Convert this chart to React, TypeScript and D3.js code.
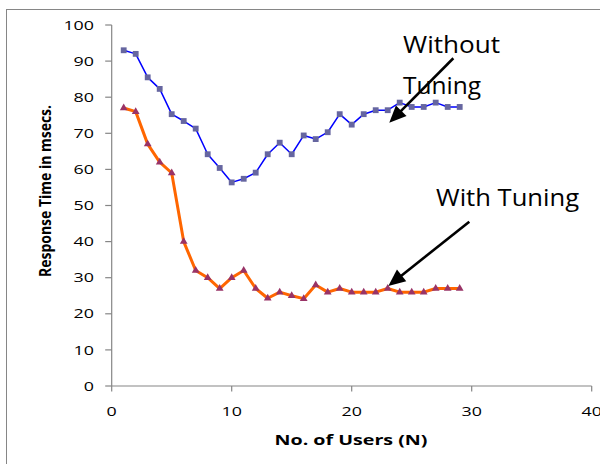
import React from "react";
import * as d3 from "d3";

const users = [1, 2, 3, 4, 5, 6, 7, 8, 9, 10, 11, 12, 13, 14, 15, 16, 17, 18, 19, 20, 21, 22, 23, 24, 25, 26, 27, 28, 29];
const withoutTuning = [93, 92, 85.5, 82.3, 75.3, 73.4, 71.3, 64.2, 60.4, 56.4, 57.4, 59.1, 64.2, 67.4, 64.2, 69.4, 68.4, 70.3, 75.3, 72.4, 75.3, 76.4, 76.4, 78.5, 77.3, 77.3, 78.5, 77.3, 77.3];
const withTuning = [77, 76, 67, 62, 59, 40, 32, 30, 27, 30, 32, 27, 24.3, 26, 25, 24.2, 28, 26, 27, 26, 26, 26, 27, 26, 26, 26, 27, 27, 27];
const xTicks = [0, 10, 20, 30, 40];
const yTicks = [0, 10, 20, 30, 40, 50, 60, 70, 80, 90, 100];

const W = 600;
const H = 464;
const FONT = "'Open Sans', 'Liberation Sans', sans-serif";

export default function App() {
  const x = d3.scaleLinear().domain([0, 40]).range([111.7, 591.7]);
  const y = d3.scaleLinear().domain([0, 100]).range([386, 25]);

  const lineGen = d3
    .line<number>()
    .x((_, i) => x(users[i]))
    .y((d) => y(d))
    .curve(d3.curveLinear);

  const tri = d3.symbol().type(d3.symbolTriangle).size(26)() as string;
  const sq = d3.symbol().type(d3.symbolSquare).size(34)() as string;

  const arrow = (x1: number, y1: number, x2: number, y2: number) => {
    const sx = x(x1), sy = y(y1), ex = x(x2), ey = y(y2);
    const dx = ex - sx, dy = ey - sy;
    const len = Math.hypot(dx, dy);
    const ux = dx / len, uy = dy / len;
    const hl = 17, hw = 7.5;
    const bx = ex - ux * hl, by = ey - uy * hl;
    const px = -uy, py = ux;
    return (
      <g>
        <line x1={sx} y1={sy} x2={bx + ux * 2} y2={by + uy * 2} stroke="#000" strokeWidth={2.6} />
        <polygon
          points={`${ex},${ey} ${bx + px * hw},${by + py * hw} ${bx - px * hw},${by - py * hw}`}
          fill="#000"
        />
      </g>
    );
  };

  return (
    <svg width={W} height={H} style={{ position: "absolute", left: 0, top: 0, background: "#fff" }}>
      <rect x={6.5} y={9.5} width={700} height={600} fill="#fff" stroke="#868686" strokeWidth={1} />

      {/* axes */}
      <line x1={x(0)} y1={y(0)} x2={x(0)} y2={y(100)} stroke="#868686" strokeWidth={1.2} />
      <line x1={x(0)} y1={y(0)} x2={x(40)} y2={y(0)} stroke="#868686" strokeWidth={1.2} />
      {yTicks.map((t) => (
        <g key={"y" + t}>
          <line x1={x(0) - 6.5} x2={x(0)} y1={y(t)} y2={y(t)} stroke="#868686" strokeWidth={1.2} />
          <text
            x={94}
            y={y(t)}
            dy="0.36em"
            textAnchor="end"
            fontFamily={FONT}
            fontSize={13}
            fill="#000"
            textLength={String(t).length * 10.2}
            lengthAdjust="spacingAndGlyphs"
          >
            {t}
          </text>
        </g>
      ))}
      {xTicks.map((t) => (
        <g key={"x" + t}>
          <line x1={x(t)} x2={x(t)} y1={y(0)} y2={y(0) + 5.5} stroke="#868686" strokeWidth={1.2} />
          <text
            x={x(t)}
            y={415.7}
            textAnchor="middle"
            fontFamily={FONT}
            fontSize={13}
            fill="#000"
            textLength={String(t).length * 10.2}
            lengthAdjust="spacingAndGlyphs"
          >
            {t}
          </text>
        </g>
      ))}

      {/* axis titles */}
      <text
        transform={`translate(50.5,191) rotate(-90)`}
        textAnchor="middle"
        fontFamily={FONT}
        fontWeight="bold"
        fontSize={15.5}
        fill="#000"
        textLength={172}
        lengthAdjust="spacingAndGlyphs"
      >
        Response Time in msecs.
      </text>
      <text
        x={351}
        y={445}
        textAnchor="middle"
        fontFamily={FONT}
        fontWeight="bold"
        fontSize={15}
        fill="#000"
        textLength={153}
        lengthAdjust="spacingAndGlyphs"
      >
        No. of Users (N)
      </text>

      {/* series */}
      <path d={lineGen(withoutTuning) as string} fill="none" stroke="#0000FF" strokeWidth={1.5} strokeLinejoin="round" />
      {withoutTuning.map((v, i) => (
        <path key={"s" + i} d={sq} transform={`translate(${x(users[i])},${y(v)})`} fill="#6666A0" />
      ))}
      <path d={lineGen(withTuning) as string} fill="none" stroke="#FF6600" strokeWidth={3} strokeLinejoin="round" />
      {withTuning.map((v, i) => (
        <path key={"t" + i} d={tri} transform={`translate(${x(users[i])},${y(v)})`} fill="#993366" />
      ))}

      {/* annotations */}
      <text x={x(24.28)} y={y(92.3)} fontFamily={FONT} fontSize={24.5} fill="#000" textLength={97} lengthAdjust="spacingAndGlyphs">
        Without
      </text>
      <text x={x(24.28)} y={y(80.9)} fontFamily={FONT} fontSize={24.5} fill="#000" textLength={78} lengthAdjust="spacingAndGlyphs">
        Tuning
      </text>
      <text x={x(27.03)} y={y(49.9)} fontFamily={FONT} fontSize={24.5} fill="#000" textLength={143} lengthAdjust="spacingAndGlyphs">
        With Tuning
      </text>
      {arrow(28.47, 90.8, 23.13, 72.9)}
      {arrow(29.8, 45.5, 23.05, 27.7)}
    </svg>
  );
}
